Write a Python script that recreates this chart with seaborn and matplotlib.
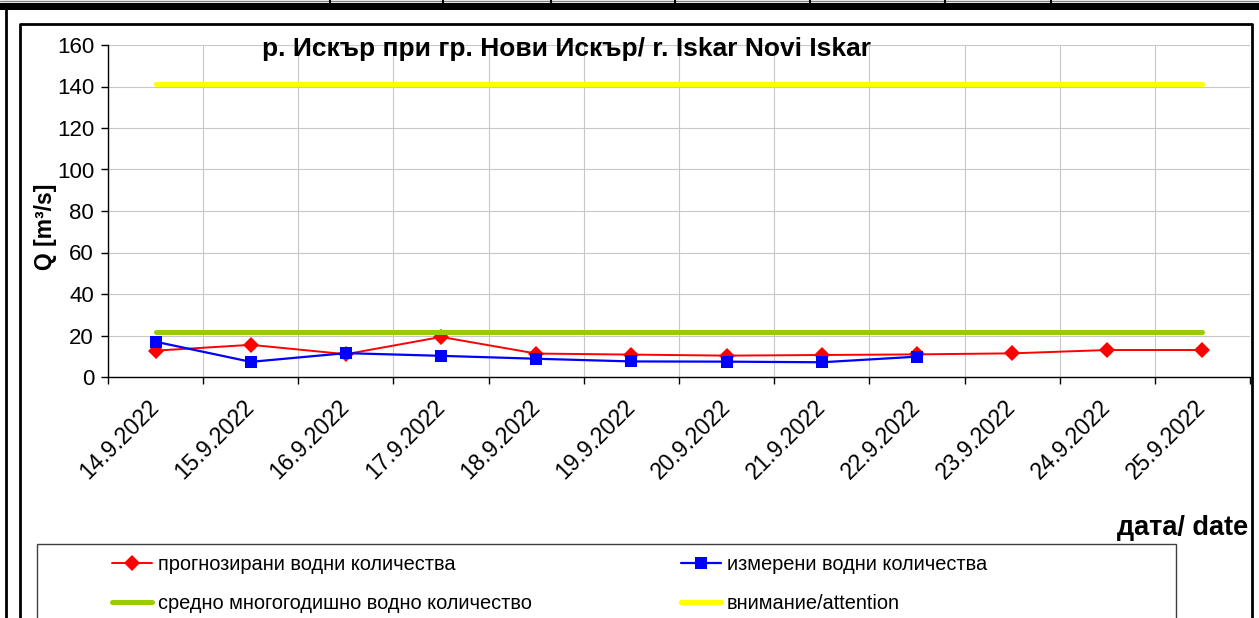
import numpy as np
import pandas as pd
import matplotlib.pyplot as plt
import seaborn as sns
from matplotlib.lines import Line2D
from matplotlib.patches import Rectangle

# data
dates = ["14.9.2022", "15.9.2022", "16.9.2022", "17.9.2022", "18.9.2022", "19.9.2022",
         "20.9.2022", "21.9.2022", "22.9.2022", "23.9.2022", "24.9.2022", "25.9.2022"]
forecast = [12.7, 15.5, 11.0, 19.3, 11.3, 10.8, 10.3, 10.6, 10.9, 11.4, 13.0, 13.0]
measured = [17.0, 7.3, 11.5, 10.2, 8.8, 7.5, 7.4, 7.1, 9.8]
mean_level = 21.8
attention_level = 141.0

labels = ["прогнозирани водни количества", "измерени водни количества",
          "средно многогодишно водно количество", "внимание/attention"]

sns.set_theme(style="white")
plt.rcParams['font.family'] = ['Liberation Sans', 'DejaVu Sans']
plt.rcParams['text.color'] = 'black'
plt.rcParams['xtick.color'] = 'black'
plt.rcParams['ytick.color'] = 'black'

W, H = 1259, 618
fig = plt.figure(figsize=(W / 100, H / 100), dpi=100)


def fx(x):
    return x / W


def fy(y):
    return 1 - y / H


ax = fig.add_axes([fx(108), fy(377), fx(1250) - fx(108), fy(45) - fy(377)])

idx = np.arange(len(dates))
df = pd.DataFrame({"pos": idx, "forecast": forecast,
                   "mean": [mean_level] * len(dates),
                   "attention": [attention_level] * len(dates)})
dm = pd.DataFrame({"pos": idx[:len(measured)], "measured": measured})

sns.lineplot(data=df, x="pos", y="forecast", ax=ax, color="#FF0000", lw=1.4,
             marker="D", markersize=8.5, markeredgewidth=0, label=labels[0])
sns.lineplot(data=dm, x="pos", y="measured", ax=ax, color="#0000FF", lw=1.6,
             marker="s", markersize=8, markeredgewidth=0, label=labels[1])
sns.lineplot(data=df, x="pos", y="mean", ax=ax, color="#99CC00", lw=3.6, label=labels[2])
sns.lineplot(data=df, x="pos", y="attention", ax=ax, color="#FFFF00", lw=3.8, label=labels[3])
if ax.get_legend() is not None:
    ax.get_legend().remove()

ax.set_xlim(-0.5, len(dates) - 0.5)
ax.set_ylim(0, 160)
ax.set_yticks(np.arange(0, 161, 20))
ax.set_xticks(np.arange(-0.5, len(dates), 1.0))
ax.set_xticklabels([])
ax.set_xticks(idx, minor=True)
ax.set_xticklabels(dates, minor=True, rotation=45, ha="right", va="center",
                   rotation_mode="anchor", fontsize=16.5)
ax.tick_params(axis="x", which="major", length=5, width=1, color="black", direction="out", bottom=True)
ax.tick_params(axis="x", which="minor", length=0, pad=19)
ax.tick_params(axis="y", length=5, width=1, color="black", direction="out", left=True,
               labelsize=16, pad=5)
ax.set_xlabel("")
ax.set_ylabel("")
ax.grid(True, which="major", color="#c8c8c8", lw=0.8)
ax.set_axisbelow(True)
for s in ["top", "right"]:
    ax.spines[s].set_visible(False)
for s in ["left", "bottom"]:
    ax.spines[s].set_color("black")
    ax.spines[s].set_linewidth(1)

fig.text(fx(262), fy(49), "р. Искър при гр. Нови Искър/ r. Iskar Novi Iskar",
         fontsize=19, fontweight="bold", ha="left", va="center")
fig.text(fx(45), fy(227), "Q [m³/s]", fontsize=16.5, fontweight="bold",
         rotation=90, ha="center", va="center")
fig.text(fx(1248), fy(528), "дата/ date", fontsize=19.5, fontweight="bold",
         ha="right", va="center")

# legend box, cut by the bottom edge
fig.add_artist(Rectangle((fx(37), fy(640)), fx(1176) - fx(37), fy(544) - fy(640),
                         transform=fig.transFigure, fill=False, ec="#404040", lw=1))
lines = ax.get_lines()
h = {ln.get_label(): ln for ln in lines}
leg_kw = dict(frameon=False, loc="upper left", fontsize=14.4, handlelength=2.0,
              handletextpad=0.3, borderpad=0, borderaxespad=0, labelspacing=1.02)
fig.legend(handles=[h[labels[0]], h[labels[2]]], bbox_to_anchor=(fx(112), fy(555)), **leg_kw)
fig.legend(handles=[h[labels[1]], h[labels[3]]], bbox_to_anchor=(fx(681), fy(555)), **leg_kw)

# frame lines around the chart
fig.add_artist(Rectangle((0, fy(10)), 1, fy(3) - fy(10), transform=fig.transFigure,
                         color="black", lw=0))
fig.add_artist(Line2D([0, 1], [fy(0.5), fy(0.5)], transform=fig.transFigure, color="#808080", lw=1))
for xv in [330, 443, 551, 675, 810, 945, 1051]:
    fig.add_artist(Line2D([fx(xv), fx(xv)], [fy(0), fy(3)], transform=fig.transFigure,
                          color="black", lw=1.5))
fig.add_artist(Line2D([fx(6), fx(6)], [fy(10), 0], transform=fig.transFigure, color="black", lw=2))
fig.add_artist(Line2D([fx(20), fx(20), fx(1252), fx(1252)], [0, fy(24), fy(24), 0],
                      transform=fig.transFigure, color="black", lw=2))

fig.savefig("out.png", dpi=100)
